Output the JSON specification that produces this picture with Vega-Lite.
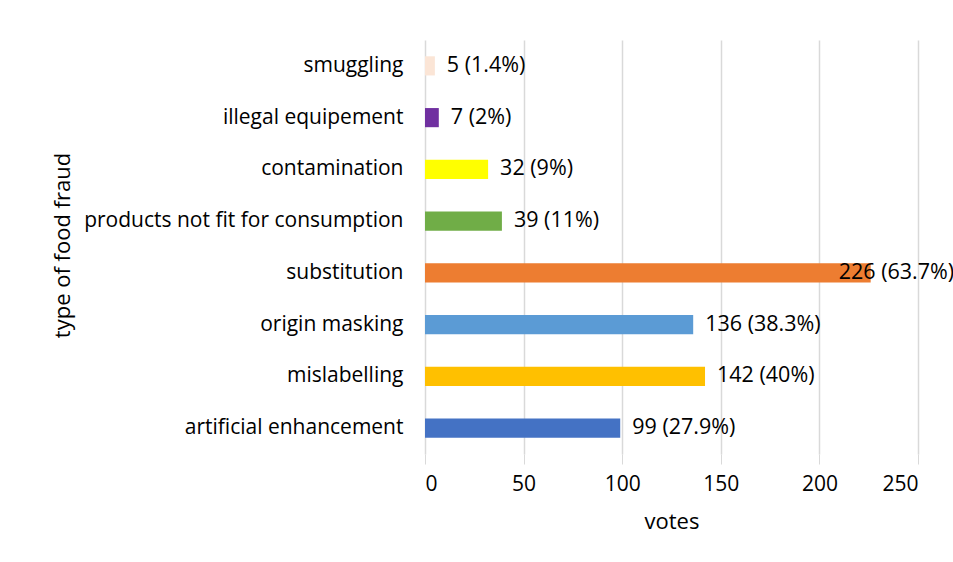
{
  "$schema": "https://vega.github.io/schema/vega-lite/v6.json",
  "width": 493,
  "height": 414,
  "autosize": {"type": "none"},
  "padding": {"left": 425, "top": 40, "right": 35, "bottom": 108},
  "background": "white",
  "config": {
    "font": "Open Sans",
    "view": {"stroke": null},
    "axis": {"labelFont": "Open Sans", "titleFont": "Open Sans", "labelColor": "#000000", "titleColor": "#000000", "titleFontWeight": "normal"}
  },
  "data": {
    "values": [
      {"type": "smuggling", "votes": 5, "label": "5 (1.4%)", "color": "#FBE5D6"},
      {"type": "illegal equipement", "votes": 7, "label": "7 (2%)", "color": "#7030A0"},
      {"type": "contamination", "votes": 32, "label": "32 (9%)", "color": "#FFFF00"},
      {"type": "products not fit for consumption", "votes": 39, "label": "39 (11%)", "color": "#70AD47"},
      {"type": "substitution", "votes": 226, "label": "226 (63.7%)", "color": "#ED7D31"},
      {"type": "origin masking", "votes": 136, "label": "136 (38.3%)", "color": "#5B9BD5"},
      {"type": "mislabelling", "votes": 142, "label": "142 (40%)", "color": "#FFC000"},
      {"type": "artificial enhancement", "votes": 99, "label": "99 (27.9%)", "color": "#4472C4"}
    ]
  },
  "encoding": {
    "y": {
      "field": "type", "type": "nominal", "sort": null,
      "scale": {"paddingInner": 0.63, "paddingOuter": 0.315},
      "axis": {"title": "type of food fraud", "titleFontSize": 22, "labelFontSize": 21, "labelLimit": 400, "labelPadding": 22, "ticks": false, "domain": false, "titleX": -363, "titleY": 205, "titleAngle": -90, "titleAlign": "center", "titleBaseline": "middle"}
    }
  },
  "layer": [
    {
      "mark": {"type": "bar"},
      "encoding": {
        "x": {
          "field": "votes", "type": "quantitative",
          "scale": {"domain": [0, 250], "nice": false},
          "axis": {"title": "votes", "titleFontSize": 22, "labelFontSize": 21, "values": [0, 50, 100, 150, 200, 250], "grid": true, "gridColor": "#D9D9D9", "gridWidth": 1.5, "domain": false, "ticks": true, "tickColor": "#D9D9D9", "tickSize": 10, "labelPadding": 9, "titlePadding": 17}
        },
        "color": {"field": "color", "type": "nominal", "scale": null}
      }
    },
    {
      "transform": [{"filter": "datum.votes < 200"}],
      "mark": {"type": "text", "align": "left", "dx": 12, "fontSize": 21.5, "color": "#000000"},
      "encoding": {
        "x": {"field": "votes", "type": "quantitative"},
        "text": {"field": "label"}
      }
    },
    {
      "transform": [{"filter": "datum.votes >= 200"}],
      "mark": {"type": "text", "align": "left", "dx": -32, "fontSize": 21.5, "color": "#000000"},
      "encoding": {
        "x": {"field": "votes", "type": "quantitative"},
        "text": {"field": "label"}
      }
    }
  ]
}
